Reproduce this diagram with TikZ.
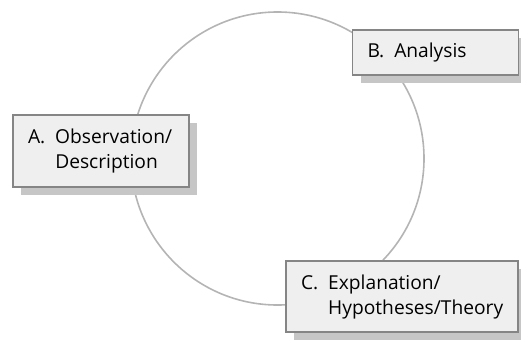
\documentclass[tikz,border=0pt]{standalone}
\usepackage{fontspec}
\setmainfont{Open Sans}
\usepackage{tikz}
\usetikzlibrary{shadows}

\definecolor{boxfill}{HTML}{EFEFEF}
\definecolor{boxline}{HTML}{858585}
\definecolor{shadowgray}{HTML}{C6C6C6}
\definecolor{cycleline}{HTML}{B4B4B4}

\newcommand{\stagetext}[3]{\begin{tabular}{@{}l@{\hspace{10pt}}l@{}}#1 & #2\\ & #3\end{tabular}}

\begin{document}
\begin{tikzpicture}[
    x=1pt, y=-1pt,
    stage/.style={rectangle, draw=boxline, fill=boxfill, line width=1.4pt, inner xsep=15pt, inner ysep=0pt,
        align=left, font=\fontsize{19.2}{25}\selectfont,
        drop shadow={shadow xshift=8pt, shadow yshift=-8pt, fill=shadowgray, opacity=1}},
    cycle/.style={draw=cycleline, line width=1.6pt}
]
    \useasboundingbox (0,0) rectangle (521,340);

    \coordinate (hub) at (277.5,158.5);
    \draw [cycle] (hub) circle [radius=146.5pt];

    \node [stage, minimum width=176pt, minimum height=72pt, text width=146pt] (obs) at (101,151)
        {\stagetext{A.}{Observation/}{Description}};
    \node [stage, minimum width=166pt, minimum height=45pt, text width=136pt] (ana) at (435.5,52.5)
        {B.\hspace{10pt}Analysis};
    \node [stage, minimum width=232pt, minimum height=71pt, text width=202pt] (expl) at (402,296.5)
        {\stagetext{C.}{Explanation/}{Hypotheses/Theory}};
\end{tikzpicture}
\end{document}
